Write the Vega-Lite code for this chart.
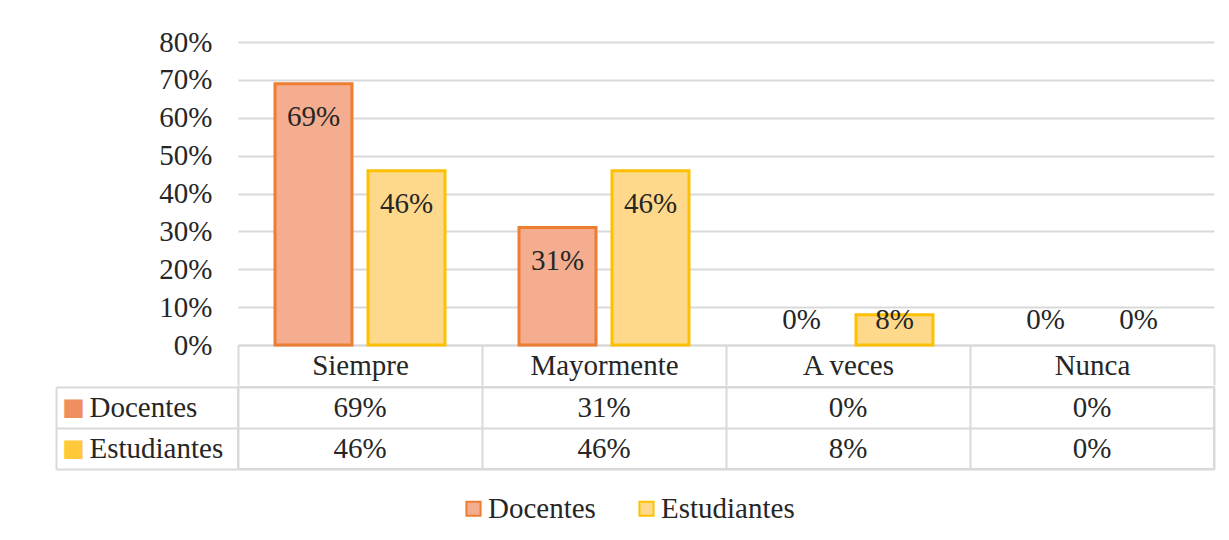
{
  "$schema": "https://vega.github.io/schema/vega-lite/v6.json",
  "padding": {"left": 54, "top": 28, "right": 10, "bottom": 10},
  "datasets": {
    "survey": [
      {"categoria": "Siempre", "grupo": "Docentes", "valor": 0.69},
      {"categoria": "Siempre", "grupo": "Estudiantes", "valor": 0.46},
      {"categoria": "Mayormente", "grupo": "Docentes", "valor": 0.31},
      {"categoria": "Mayormente", "grupo": "Estudiantes", "valor": 0.46},
      {"categoria": "A veces", "grupo": "Docentes", "valor": 0.0},
      {"categoria": "A veces", "grupo": "Estudiantes", "valor": 0.08},
      {"categoria": "Nunca", "grupo": "Docentes", "valor": 0.0},
      {"categoria": "Nunca", "grupo": "Estudiantes", "valor": 0.0}
    ]
  },
  "config": {
    "font": "Liberation Serif",
    "view": {"stroke": null},
    "axis": {"labelFont": "Liberation Serif", "labelFontSize": 29, "labelColor": "#262626", "labelOverlap": false},
    "legend": {
      "orient": "none",
      "legendX": 221,
      "legendY": 452,
      "direction": "horizontal",
      "symbolType": "square",
      "symbolSize": 200,
      "symbolStrokeWidth": 2,
      "labelFont": "Liberation Serif",
      "labelFontSize": 29,
      "labelColor": "#262626",
      "columnPadding": 36,
      "labelOffset": 0
    }
  },
  "spacing": -14,
  "vconcat": [
    {
      "width": 976,
      "height": 303,
      "data": {"name": "survey"},
      "encoding": {
        "y": {
          "field": "valor", "type": "quantitative",
          "scale": {"domain": [0, 0.8], "nice": false},
          "axis": {
            "title": null, "format": ".0%", "values": [0, 0.1, 0.2, 0.3, 0.4, 0.5, 0.6, 0.7, 0.8], "tickCount": 20,
            "labelOverlap": false, "labelBound": false, "labelFont": "Liberation Serif", "labelFontSize": 29,
            "domain": false, "ticks": false, "labelPadding": 26,
            "grid": true, "gridColor": "#D9D9D9", "gridWidth": 2
          }
        },
        "x": {
          "field": "categoria", "type": "nominal",
          "sort": ["Siempre", "Mayormente", "A veces", "Nunca"],
          "scale": {"domain": ["Siempre", "Mayormente", "A veces", "Nunca"], "paddingInner": 0, "paddingOuter": 0},
          "axis": {
            "orient": "bottom", "title": null, "grid": false,
            "domain": true, "domainColor": "#D9D9D9", "domainWidth": 2,
            "ticks": true, "tickBand": "extent", "tickSize": 40, "tickColor": "#D9D9D9", "tickWidth": 2,
            "labelAngle": 0, "labelBaseline": "middle", "labelPadding": -20
          }
        },
        "xOffset": {
          "field": "grupo", "type": "nominal",
          "sort": ["Docentes", "Estudiantes"],
          "scale": {"domain": ["Docentes", "Estudiantes"], "paddingInner": 0.172, "paddingOuter": 0.398}
        }
      },
      "layer": [
        {
          "transform": [{"filter": "datum.valor > 0"}],
          "mark": {"type": "bar", "strokeWidth": 3},
          "encoding": {
            "color": {
              "field": "grupo", "type": "nominal",
              "scale": {"domain": ["Docentes", "Estudiantes"], "range": ["#F5AD8F", "#FFD98B"]},
              "legend": {"title": null}
            },
            "stroke": {
              "field": "grupo", "type": "nominal",
              "scale": {"domain": ["Docentes", "Estudiantes"], "range": ["#ED7D31", "#FFC000"]},
              "legend": {"title": null}
            }
          }
        },
        {
          "transform": [{"filter": "datum.valor >= 0.2"}],
          "mark": {"type": "text", "dy": 33, "fontSize": 29, "font": "Liberation Serif", "color": "#262626", "baseline": "middle"},
          "encoding": {
            "text": {"field": "valor", "type": "quantitative", "format": ".0%"}
          }
        },
        {
          "transform": [{"filter": "datum.valor < 0.2"}],
          "mark": {"type": "text", "dy": -25, "fontSize": 29, "font": "Liberation Serif", "color": "#262626", "baseline": "middle"},
          "encoding": {
            "y": {"datum": 0, "type": "quantitative"},
            "text": {"field": "valor", "type": "quantitative", "format": ".0%"}
          }
        }
      ]
    },
    {
      "width": 976,
      "height": 82,
      "data": {"name": "survey"},
      "view": {"stroke": "#D9D9D9", "strokeWidth": 2},
      "layer": [
        {
          "mark": {"type": "text", "fontSize": 29, "font": "Liberation Serif", "color": "#262626", "baseline": "middle"},
          "encoding": {
            "x": {
              "field": "categoria", "type": "nominal",
              "sort": ["Siempre", "Mayormente", "A veces", "Nunca"],
              "scale": {"paddingInner": 0, "paddingOuter": 0},
              "axis": {
                "orient": "bottom", "title": null, "labels": false, "ticks": false, "domain": false,
                "grid": true, "tickBand": "extent", "gridColor": "#D9D9D9", "gridWidth": 2
              }
            },
            "y": {
              "field": "grupo", "type": "nominal",
              "sort": ["Docentes", "Estudiantes"],
              "scale": {"paddingInner": 0, "paddingOuter": 0},
              "axis": {
                "orient": "left", "title": null, "offset": 182,
                "domain": true, "domainColor": "#D9D9D9", "domainWidth": 2,
                "ticks": true, "tickBand": "extent", "tickSize": -182, "tickColor": "#D9D9D9", "tickWidth": 2,
                "grid": true, "gridColor": "#D9D9D9", "gridWidth": 2,
                "labelAlign": "left", "labelBaseline": "middle", "labelPadding": 149
              }
            },
            "text": {"field": "valor", "type": "quantitative", "format": ".0%"}
          }
        },
        {
          "mark": {"type": "text", "opacity": 0},
          "encoding": {
            "y": {
              "field": "grupo", "type": "nominal",
              "sort": ["Docentes", "Estudiantes"],
              "axis": {
                "orient": "left", "title": null, "offset": 182,
                "domain": false, "ticks": false, "grid": false,
                "labelExpr": "'■'", "labelFont": "DejaVu Sans", "labelFontSize": 24,
                "labelAlign": "center", "labelBaseline": "middle", "labelPadding": -17,
                "labelColor": {"condition": {"test": "datum.value == 'Docentes'", "value": "#EF8F5E"}, "value": "#FFC93A"}
              }
            },
            "text": {"field": "valor", "type": "quantitative", "format": ".0%"}
          }
        }
      ],
      "resolve": {"axis": {"y": "independent"}}
    }
  ]
}
